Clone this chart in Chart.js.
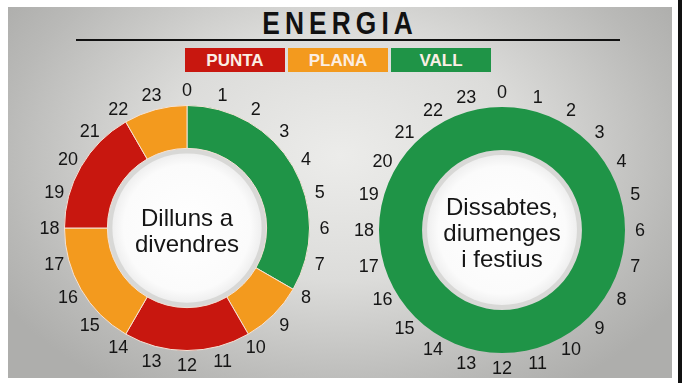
<!DOCTYPE html>
<html>
<head>
<meta charset="utf-8">
<script src="https://cdn.jsdelivr.net/npm/chart.js@4"></script>
<style>
body{margin:0;width:682px;height:383px;background:#fff;position:relative;overflow:hidden;font-family:"Liberation Sans",Arial,sans-serif;}
#panel{position:absolute;left:8px;top:7px;width:664px;height:371px;
 background:radial-gradient(ellipse 60% 75% at 50% 40%,#ececea 0%,#dcdcda 45%,#b9b9b7 85%,#aeaeac 100%);}
#edge{position:absolute;left:678px;top:0;width:4px;height:383px;background:#111;}
#title{position:absolute;left:0;width:682px;top:6px;text-align:center;font-family:"Liberation Sans",Arial,sans-serif;
 font-weight:bold;font-size:31px;letter-spacing:6px;color:#111;transform:scaleX(0.85);transform-origin:335px 0;}
#rule{position:absolute;left:76px;width:544px;top:39px;height:2px;background:#111;}
#legend{position:absolute;top:48px;left:185px;display:flex;gap:3px;}
#legend div{width:100px;height:24px;line-height:25px;text-align:center;color:#fbeee4;
 font-family:"Liberation Sans",Arial,sans-serif;font-weight:bold;font-size:17px;}
canvas{position:absolute;}
</style>
</head>
<body>
<div id="panel"></div>
<div id="edge"></div>
<div id="title">ENERGIA</div>
<div id="rule"></div>
<div id="legend"></div>
<canvas id="weekdayChart" width="330" height="310" style="left:22px;top:73px"></canvas>
<canvas id="weekendChart" width="330" height="310" style="left:337px;top:75px"></canvas>
<script>
// ---------------------
// Data
// ---------------------

const hourLabels = ['0','1','2','3','4','5','6','7','8','9','10','11',
                    '12','13','14','15','16','17','18','19','20','21','22','23'];

const periodNames = ['PUNTA','PLANA','VALL'];

// weekday: periods in order from 0h, with their length in hours
const weekdayPeriods = ['VALL','PLANA','PUNTA','PLANA','PUNTA','PLANA'];
const weekdayHours = [8, 2, 4, 4, 4, 2];

// weekend and holidays
const weekendPeriods = ['VALL'];
const weekendHours = [24];

const weekdayCaption = ['Dilluns a','divendres'];
const weekendCaption = ['Dissabtes,','diumenges','i festius'];

const periodColors = {PUNTA:'#c8170f', PLANA:'#f39a1e', VALL:'#1f9447'};

// ---------------------
// Legend
// ---------------------

const legend = document.getElementById('legend');
periodNames.forEach(p=>{
    const box = document.createElement('div');
    box.style.background = periodColors[p];
    box.textContent = p;
    legend.appendChild(box);
});

// ---------------------
// Plugin: center disc, caption and hour labels
// ---------------------

const clockPlugin = {
    id:'clock',
    beforeDatasetsDraw(chart){
        const arc = chart.getDatasetMeta(0).data[0];
        const ctx = chart.ctx;
        ctx.save();
        ctx.beginPath();
        ctx.arc(arc.x, arc.y, arc.innerRadius + 1, 0, Math.PI*2);
        ctx.fillStyle = '#d8d8d6';
        ctx.fill();
        const g = ctx.createRadialGradient(arc.x, arc.y, 0, arc.x, arc.y, arc.innerRadius - 5);
        g.addColorStop(0, '#ffffff');
        g.addColorStop(0.85, '#fbfbfb');
        g.addColorStop(1, '#efefef');
        ctx.beginPath();
        ctx.arc(arc.x, arc.y, arc.innerRadius - 5, 0, Math.PI*2);
        ctx.fillStyle = g;
        ctx.fill();
        ctx.restore();
    },
    afterDraw(chart){
        const arc = chart.getDatasetMeta(0).data[0];
        const ctx = chart.ctx;
        const opts = chart.options.plugins.clock;
        const caption = opts.caption;
        ctx.save();
        ctx.fillStyle = '#151515';
        ctx.textAlign = 'center';
        ctx.textBaseline = 'middle';
        // caption
        ctx.font = '24px "Liberation Sans", Arial, sans-serif';
        const lh = 26;
        caption.forEach((line,i)=>{
            ctx.fillText(line, arc.x, arc.y + opts.shift + (i - (caption.length-1)/2)*lh);
        });
        // hour labels round the ring
        ctx.font = '18px "Liberation Sans", Arial, sans-serif';
        const r = arc.outerRadius + 15;
        hourLabels.forEach((h,i)=>{
            const a = arc.startAngle + i/hourLabels.length*Math.PI*2;
            ctx.fillText(h, arc.x + r*Math.cos(a), arc.y + r*Math.sin(a) + 1);
        });
        ctx.restore();
    }
};

function makeClock(id, periods, hours, caption, border, shift){
    new Chart(document.getElementById(id),{
        type:'doughnut',
        data:{
            labels:periods,
            datasets:[{
                data:hours,
                backgroundColor:periods.map(p=>periodColors[p]),
                borderColor:'#f4e2d6',
                borderWidth:border,
                hoverOffset:0
            }]
        },
        options:{
            responsive:false,
            animation:false,
            events:[],
            cutout:'65%',
            layout:{padding:{left:42,right:42,top:32,bottom:32}},
            plugins:{
                legend:{display:false},
                tooltip:{enabled:false},
                clock:{caption:caption, shift:shift}
            }
        },
        plugins:[clockPlugin]
    });
}

makeClock('weekdayChart', weekdayPeriods, weekdayHours, weekdayCaption, 1, 4);
makeClock('weekendChart', weekendPeriods, weekendHours, weekendCaption, 0, 4);
</script>
</body>
</html>
